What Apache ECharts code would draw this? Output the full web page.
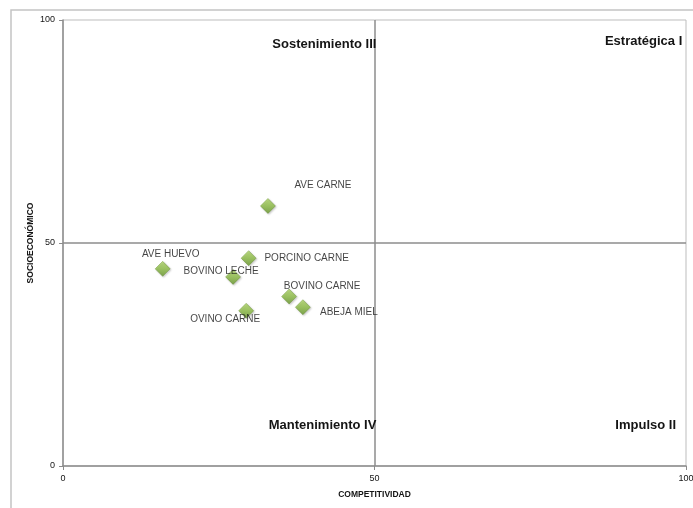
<!DOCTYPE html>
<html>
<head>
<meta charset="utf-8">
<style>
  html, body { margin: 0; padding: 0; background: #fff; }
  #chart { width: 693px; height: 508px; }
</style>
<script src="https://cdn.jsdelivr.net/npm/echarts@6/dist/echarts.min.js"></script>
</head>
<body>
<div id="chart"></div>
<script>
// Sector names and their scores
const sectors = ['AVE CARNE', 'AVE HUEVO', 'PORCINO CARNE', 'BOVINO LECHE', 'BOVINO CARNE', 'ABEJA MIEL', 'OVINO CARNE'];
const competitividad = [32.9, 16.0, 29.8, 27.3, 36.3, 38.5, 29.4];
const socioeconomico = [58.3, 44.2, 46.6, 42.4, 38.0, 35.6, 34.8];

// Quadrant names and axis tick values
const quadrants = ['Estratégica I', 'Impulso II', 'Sostenimiento III', 'Mantenimiento IV'];
const axisTicks = [0, 50, 100];

// Label placement for each sector label (pixel offset from the marker centre)
const labelOffsets = {
  'AVE CARNE': [55, -21],
  'AVE HUEVO': [8, -15],
  'PORCINO CARNE': [58, 0],
  'BOVINO LECHE': [-12, -6],
  'BOVINO CARNE': [33, -10],
  'ABEJA MIEL': [46, 5],
  'OVINO CARNE': [-21, 8]
};

// Anchor (right edge, vertical centre) of each quadrant caption, in axis units
const quadrantAnchors = {
  'Estratégica I': [99.4, 95.3],
  'Impulso II': [98.4, 9.2],
  'Sostenimiento III': [50.3, 94.6],
  'Mantenimiento IV': [50.3, 9.0]
};

const FONT = '"Liberation Sans", Arial, sans-serif';
const TEXT = '#141414';

const chart = echarts.init(document.getElementById('chart'), null, { renderer: 'canvas' });

const diamondFill = new echarts.graphic.LinearGradient(0, 0, 0, 1, [
  { offset: 0, color: '#b2d86a' },
  { offset: 0.5, color: '#8dbd45' },
  { offset: 1, color: '#67962c' }
]);

const points = sectors.map((name, i) => ({
  name: name,
  value: [competitividad[i], socioeconomico[i]],
  label: { offset: labelOffsets[name] }
}));

chart.setOption({
  animation: false,
  backgroundColor: '#fff',
  grid: {
    left: 63, top: 20, right: 7, bottom: 42,
    outerBoundsMode: 'none',
    containLabel: false,
    show: true, borderColor: '#bdbdbd', borderWidth: 1, backgroundColor: 'transparent'
  },
  xAxis: {
    type: 'value', min: 0, max: 100, interval: 50,
    name: 'COMPETITIVIDAD', nameLocation: 'middle', nameGap: 24,
    nameTextStyle: { fontFamily: FONT, fontSize: 8.5, fontWeight: 'bold', color: TEXT },
    axisLine: { show: true, lineStyle: { color: '#8c8c8c', width: 1.5 } },
    axisTick: { show: true, length: 4, lineStyle: { color: '#8c8c8c' } },
    axisLabel: { margin: 8, fontFamily: FONT, fontSize: 9, color: TEXT,
      customValues: axisTicks },
    splitLine: { show: true, showMinLine: false, showMaxLine: false,
      lineStyle: { color: '#8c8c8c', width: 1.5 } }
  },
  yAxis: {
    type: 'value', min: 0, max: 100, interval: 50,
    name: 'SOCIOECONÓMICO', nameLocation: 'middle', nameGap: 28, nameRotate: 90,
    nameMoveOverlap: false,
    nameTextStyle: { fontFamily: FONT, fontSize: 8.5, fontWeight: 'bold', color: TEXT },
    axisLine: { show: true, lineStyle: { color: '#8c8c8c', width: 1.5 } },
    axisTick: { show: true, length: 4, lineStyle: { color: '#8c8c8c' } },
    axisLabel: { margin: 8, fontFamily: FONT, fontSize: 9, color: TEXT },
    splitLine: { show: true, showMinLine: false, showMaxLine: false,
      lineStyle: { color: '#8c8c8c', width: 1.5 } }
  },
  series: [{
    type: 'scatter',
    symbol: 'diamond',
    symbolSize: 15,
    itemStyle: {
      color: diamondFill, borderColor: '#5f8a28', borderWidth: 0.5,
      shadowColor: 'rgba(0,0,0,0.25)', shadowBlur: 2, shadowOffsetX: 1, shadowOffsetY: 1
    },
    label: {
      show: true,
      position: 'inside',
      formatter: '{b}',
      align: 'center',
      verticalAlign: 'middle',
      fontFamily: FONT,
      fontSize: 10,
      color: TEXT
    },
    data: points
  }]
});

// Outer chart frame and quadrant captions
const captions = quadrants.map(q => {
  const p = chart.convertToPixel({ gridIndex: 0 }, quadrantAnchors[q]);
  return {
    type: 'text',
    x: p[0], y: p[1],
    style: {
      text: q, align: 'right', verticalAlign: 'middle',
      font: 'bold 13px ' + FONT, fill: TEXT
    }
  };
});

chart.setOption({
  graphic: [
    {
      type: 'rect', silent: true,
      shape: { x: 11, y: 10, width: 720, height: 540 },
      style: { fill: 'none', stroke: '#c4c4c4', lineWidth: 1.5 }
    }
  ].concat(captions)
});
</script>
</body>
</html>
